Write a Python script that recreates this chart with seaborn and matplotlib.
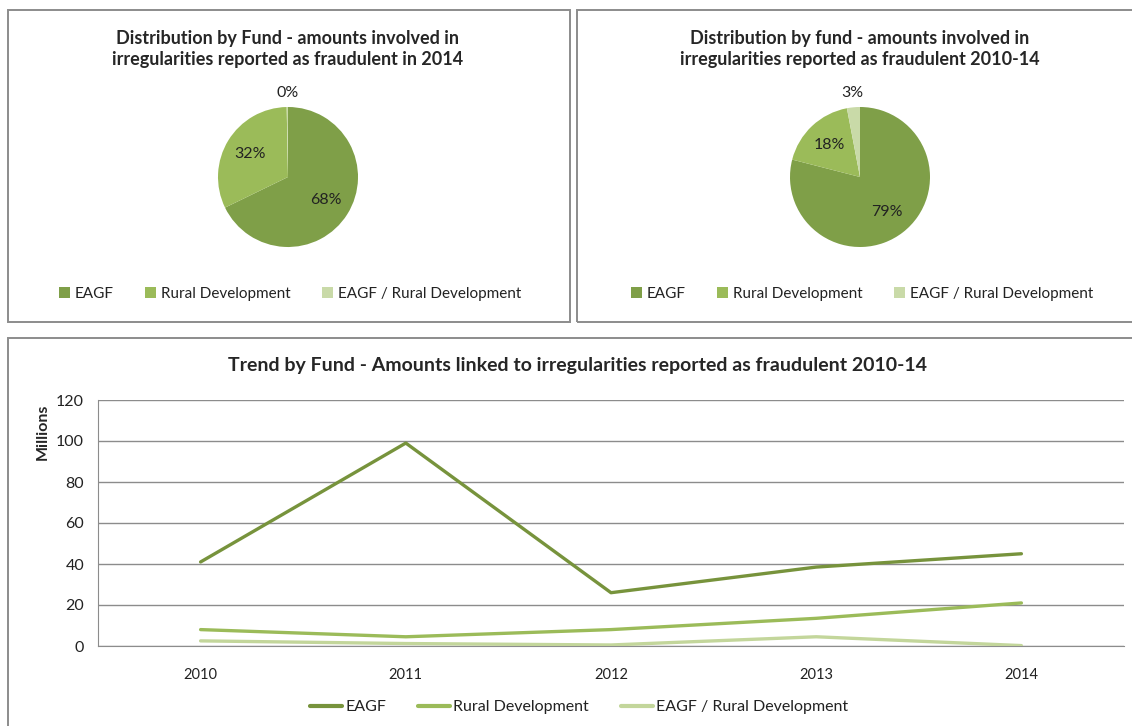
import numpy as np
import pandas as pd
import seaborn as sns
import matplotlib.pyplot as plt
from matplotlib.patches import Rectangle, Patch
from matplotlib.lines import Line2D

# ---- data ----
funds = ['EAGF', 'Rural Development', 'EAGF / Rural Development']
share_2014 = [68, 32, 0.3]
share_2010_14 = [79, 18, 3]
pct_2014 = ['68%', '32%', '0%']
pct_2010_14 = ['79%', '18%', '3%']

years = ['2010', '2011', '2012', '2013', '2014']
eagf = [41, 99, 26, 38.5, 45]
rural_dev = [8, 4.5, 8, 13.5, 21]
eagf_rd = [2.5, 1.2, 0.5, 4.5, 0.2]

pie_colors = ['#7F9F48', '#9BBB59', '#C9DAA8']
line_colors = ['#77933C', '#9BBB59', '#C3D69B']

sns.set_style("white")
plt.rcParams['font.family'] = ['Lato', 'DejaVu Sans']
W, H = 1132, 726
fig = plt.figure(figsize=(W / 100, H / 100), dpi=100)


def fx(px):
    return px / W


def fy(py):
    return 1 - py / H


# panel frames
for x0, y0, x1, y1 in [(8, 10, 570, 322), (577, 10, 1140, 322), (8, 338, 1140, 740)]:
    fig.patches.append(Rectangle((fx(x0), fy(y1)), fx(x1 - x0), (y1 - y0) / H,
                                 transform=fig.transFigure, fill=False,
                                 edgecolor='#8C8C8C', lw=1.4))


def draw_pie(cx, title, values, labels):
    r = 70
    ax = fig.add_axes([fx(cx - r), fy(177 + r), fx(2 * r), 2 * r / H])
    wedges, _ = ax.pie(values, colors=pie_colors, startangle=90, counterclock=False,
                       wedgeprops=dict(edgecolor='none'))
    for w, lab, v in zip(wedges, labels, values):
        mid = np.deg2rad((w.theta1 + w.theta2) / 2)
        d = 0.63 if v > 10 else 1.2
        ax.text(d * np.cos(mid), d * np.sin(mid), lab, ha='center', va='center',
                fontsize=11.5, color='#222222')
    ax.set_xlim(-1, 1)
    ax.set_ylim(-1, 1)
    ax.set_aspect('equal')
    fig.text(fx(cx), fy(49), title, ha='center', va='center', fontsize=13,
             fontweight='bold', linespacing=1.35)
    handles = [Patch(facecolor=c, edgecolor='none') for c in pie_colors]
    fig.legend(handles, funds, loc='center', bbox_to_anchor=(fx(cx + 2), fy(294)),
               ncol=3, frameon=False, fontsize=11, handlelength=0.7, handleheight=0.7,
               handletextpad=0.3, columnspacing=2.1, labelcolor='#222222')


draw_pie(288, 'Distribution by Fund - amounts involved in\nirregularities reported as fraudulent in 2014',
         share_2014, pct_2014)
draw_pie(860, 'Distribution by fund - amounts involved in\nirregularities reported as fraudulent 2010-14',
         share_2010_14, pct_2010_14)

# ---- trend line chart ----
df = pd.DataFrame({'Year': years * 3,
                   'Amount': eagf + rural_dev + eagf_rd,
                   'Fund': [f for f in funds for _ in years]})
df['pos'] = df['Year'].map({y: i for i, y in enumerate(years)})

ax = fig.add_axes([fx(98), fy(646), fx(1124 - 98), (646 - 400) / H])
sns.lineplot(data=df, x='pos', y='Amount', hue='Fund', palette=line_colors,
             linewidth=2.4, ax=ax, legend=False, zorder=3)
ax.set_xlim(-0.5, len(years) - 0.5)
ax.set_ylim(0, 120)
ax.set_yticks(range(0, 121, 20))
ax.set_xticks(np.arange(-0.5, len(years), 1.0))
ax.set_xticklabels([])
ax.set_xticks(range(len(years)), minor=True)
ax.set_xticklabels(years, minor=True)
ax.tick_params(axis='x', which='major', length=5, color='#8C8C8C', direction='out')
ax.tick_params(axis='x', which='minor', length=0, pad=16, labelsize=10.5, labelcolor='#222222')
ax.tick_params(axis='y', length=5, color='#8C8C8C', direction='out', labelsize=11.5,
               labelcolor='#222222', pad=5)
ax.yaxis.grid(True, color='#8C8C8C', lw=1)
ax.set_axisbelow(True)
for s in ['top', 'right']:
    ax.spines[s].set_visible(False)
for s in ['left', 'bottom']:
    ax.spines[s].set_color('#8C8C8C')
ax.set_xlabel('')
ax.set_ylabel('')

fig.text(fx(43), fy(432), 'Millions', rotation=90, ha='center', va='center',
         fontsize=11.5, fontweight='bold')
fig.text(fx(577), fy(366), 'Trend by Fund - Amounts linked to irregularities reported as fraudulent 2010-14',
         ha='center', va='center', fontsize=14, fontweight='bold')

line_handles = [Line2D([0], [0], color=c, lw=3) for c in line_colors]
fig.legend(line_handles, funds, loc='center', bbox_to_anchor=(fx(579), fy(707)),
           ncol=3, frameon=False, fontsize=11.5, handlelength=2.0, handletextpad=0.2,
           columnspacing=2.0, labelcolor='#222222')

fig.savefig('out.png', dpi=100)
